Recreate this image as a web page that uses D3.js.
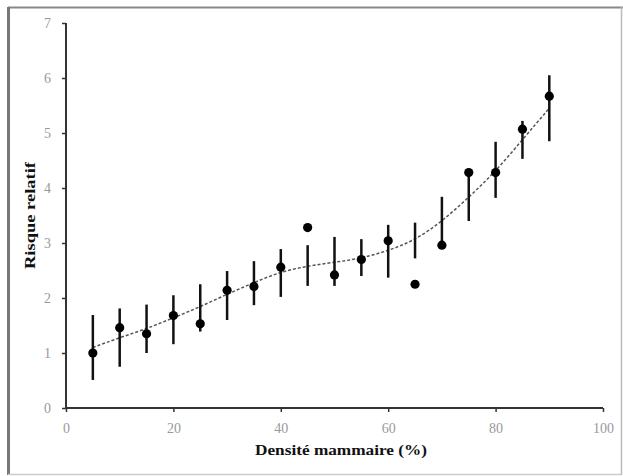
<!DOCTYPE html>
<html><head><meta charset="utf-8">
<script src="https://cdn.jsdelivr.net/npm/d3@7"></script>
<style>html,body{margin:0;padding:0;background:#fff;}svg{display:block;}</style>
</head><body>
<svg id="chart" width="623" height="476"></svg>
<script>
const densite = [5,10,15,20,25,30,35,40,45,50,55,60,65,70,75,80,85,90];
const risque  = [1.0,1.46,1.35,1.68,1.53,2.14,2.21,2.56,3.28,2.42,2.70,3.04,2.25,2.96,4.28,4.28,5.07,5.67];
const icHaut  = [1.69,1.81,1.88,2.05,2.25,2.49,2.67,2.89,2.96,3.11,3.07,3.33,3.37,3.84,4.28,4.84,5.22,6.05];
const icBas   = [0.51,0.75,1.0,1.16,1.39,1.6,1.87,2.02,2.22,2.22,2.4,2.37,2.72,2.96,3.4,3.82,4.53,4.85];
const tendance = [1.1,1.28,1.44,1.64,1.84,2.07,2.28,2.48,2.58,2.65,2.72,2.86,3.05,3.39,3.83,4.3,4.88,5.45];
const xTicks = [0,20,40,60,80,100];
const yTicks = [0,1,2,3,4,5,6,7];

const svg = d3.select("#chart");
const M = {left:66, right:603, top:23, bottom:408};
const x = d3.scaleLinear().domain([0,100]).range([M.left, M.right]);
const y = d3.scaleLinear().domain([0,7]).range([M.bottom, M.top]);

// frame
svg.append("line").attr("x1",8).attr("x2",623).attr("y1",7.5).attr("y2",7.5).attr("stroke","#888").attr("stroke-width",2);
svg.append("line").attr("x1",8.5).attr("x2",8.5).attr("y1",7).attr("y2",475).attr("stroke","#777").attr("stroke-width",3);
svg.append("line").attr("x1",8).attr("x2",621).attr("y1",474.5).attr("y2",474.5).attr("stroke","#ccc").attr("stroke-width",1.5);
svg.append("line").attr("x1",621.5).attr("x2",621.5).attr("y1",7).attr("y2",475).attr("stroke","#bbb").attr("stroke-width",1.5);

const font = "'Liberation Serif', 'DejaVu Serif', serif";

// axes
const yAxis = svg.append("g").attr("transform",`translate(${M.left},0)`)
  .call(d3.axisLeft(y).tickValues(yTicks).tickSize(4).tickPadding(11).tickFormat(d3.format("d")));
const xAxis = svg.append("g").attr("transform",`translate(0,${M.bottom})`)
  .call(d3.axisBottom(x).tickValues(xTicks).tickSize(4).tickPadding(11).tickFormat(d3.format("d")));
[yAxis,xAxis].forEach(g=>{
  g.select(".domain").attr("stroke","#333").attr("stroke-width",2);
  g.selectAll(".tick line").attr("stroke","#333").attr("stroke-width",1.5);
  g.selectAll("text").attr("fill","#999").style("font-family",font).style("font-size","14px");
});
yAxis.select(".domain").attr("d",`M0,${M.bottom}V${M.top}`);
xAxis.select(".domain").attr("d",`M${M.left},0H${M.right}`);

// trend line
svg.append("path").datum(densite.map((d,i)=>[d,tendance[i]]))
  .attr("fill","none").attr("stroke","#555").attr("stroke-width",1.5).attr("stroke-dasharray","3,2")
  .attr("d", d3.line().curve(d3.curveBasis).x(d=>x(d[0])).y(d=>y(d[1])));

// error bars
svg.append("g").selectAll("line").data(densite).join("line")
  .attr("x1",d=>x(d)).attr("x2",d=>x(d))
  .attr("y1",(d,i)=>y(icHaut[i])).attr("y2",(d,i)=>y(icBas[i]))
  .attr("stroke","#111").attr("stroke-width",2.5);

// points
svg.append("g").selectAll("circle").data(densite).join("circle")
  .attr("cx",d=>x(d)).attr("cy",(d,i)=>y(risque[i])).attr("r",4.6).attr("fill","#000");

// titles
svg.append("text").attr("x",341).attr("y",455).attr("text-anchor","middle")
  .attr("textLength",172).attr("lengthAdjust","spacingAndGlyphs")
  .style("font-family",font).style("font-weight","bold").style("font-size","15px").attr("fill","#111")
  .text("Densité mammaire (%)");
svg.append("text").attr("transform",`translate(35,${(M.top+M.bottom)/2}) rotate(-90)`).attr("text-anchor","middle")
  .attr("textLength",107).attr("lengthAdjust","spacingAndGlyphs")
  .style("font-family",font).style("font-weight","bold").style("font-size","15px").attr("fill","#111")
  .text("Risque relatif");
</script>
</body></html>
